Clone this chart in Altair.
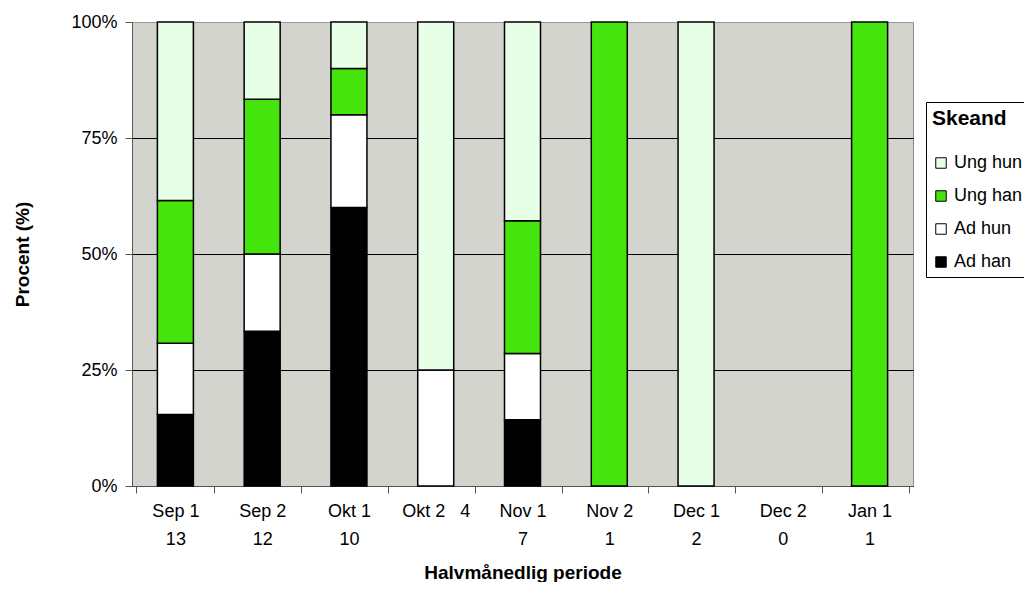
import altair as alt
import pandas as pd

# ---- data ----
periods = ["Sep 1", "Sep 2", "Okt 1", "Okt 2", "Nov 1", "Nov 2", "Dec 1", "Dec 2", "Jan 1"]
tick_line1 = ["Sep 1", "Sep 2", "Okt 1", "Okt 2\u00a0\u00a0\u00a04", "Nov 1", "Nov 2", "Dec 1", "Dec 2", "Jan 1"]
tick_line2 = ["13", "12", "10", "", "7", "1", "2", "0", "1"]

groups = ["Ad han", "Ad hun", "Ung han", "Ung hun"]          # bottom -> top
ad_han = [2, 4, 6, 0, 1, 0, 0, 0, 0]
ad_hun = [2, 2, 2, 1, 1, 0, 0, 0, 0]
ung_han = [4, 4, 1, 0, 2, 1, 0, 0, 1]
ung_hun = [5, 2, 1, 3, 3, 0, 2, 0, 0]
series = {"Ad han": ad_han, "Ad hun": ad_hun, "Ung han": ung_han, "Ung hun": ung_hun}

legend_order = ["Ung hun", "Ung han", "Ad hun", "Ad han"]
legend_colors = ["#E6FFE6", "#46E40D", "#FFFFFF", "#000000"]

keys = [a + "|" + b for a, b in zip(tick_line1, tick_line2)]
rows = []
for i, k in enumerate(keys):
    for r, g in enumerate(groups):
        v = series[g][i]
        if v > 0:
            rows.append({"key": k, "Skeand": g, "n": v, "rank": r})
df = pd.DataFrame(rows)

FONT = "Liberation Sans"

chart = alt.Chart(df).mark_bar(size=36, stroke="black", strokeWidth=1.5).encode(
    x=alt.X(
        "key:N",
        scale=alt.Scale(domain=keys),
        sort=keys,
        axis=alt.Axis(
            title="Halvmånedlig periode",
            labelExpr="isValid(datum.value) ? split(datum.value, '|') : ''",
            labelAngle=0,
            tickBand="extent",
            tickSize=7,
            tickColor="#555555",
            domainColor="#555555",
            labelPadding=9,
            labelLineHeight=28,
            titlePadding=15,
            grid=False,
        ),
    ),
    y=alt.Y(
        "n:Q",
        stack="normalize",
        scale=alt.Scale(domain=[0, 1]),
        axis=alt.Axis(
            title="Procent (%)",
            format=".0%",
            values=[0, 0.25, 0.5, 0.75, 1],
            tickSize=7,
            tickColor="#555555",
            domainColor="#555555",
            labelPadding=8,
            titlePadding=38,
            grid=True,
            gridColor={"condition": {"test": "datum.value >= 1", "value": "#999999"}, "value": "#000000"},
            gridWidth=1,
        ),
    ),
    color=alt.Color(
        "Skeand:N",
        scale=alt.Scale(domain=legend_order, range=legend_colors),
        legend=alt.Legend(
            title="Skeand",
            orient="none",
            legendX=794,
            legendY=80,
            symbolType="square",
            symbolSize=110,
            symbolStrokeColor="#000000",
            symbolStrokeWidth=1,
            symbolOpacity=1,
            strokeColor="#000000",
            padding=6,
            rowPadding=15,
            titlePadding=25,
        ),
    ),
    order=alt.Order("rank:Q"),
).properties(
    width=781,
    height=464,
    autosize=alt.AutoSizeParams(type="none"),
    padding={"left": 124, "top": 14, "right": 111, "bottom": 96},
).configure_view(
    fill="#D4D4CE", stroke="#888888", strokeWidth=1
).configure_axis(
    labelFont=FONT, titleFont=FONT, labelFontSize=18, titleFontSize=19,
    labelColor="#000000", titleColor="#000000", titleFontWeight="bold"
).configure_legend(
    labelFont=FONT, titleFont=FONT, labelFontSize=18, titleFontSize=21,
    labelColor="#000000", titleColor="#000000", titleFontWeight="bold"
)

chart.save("out.html", embed_options={"renderer": "svg", "actions": False})
